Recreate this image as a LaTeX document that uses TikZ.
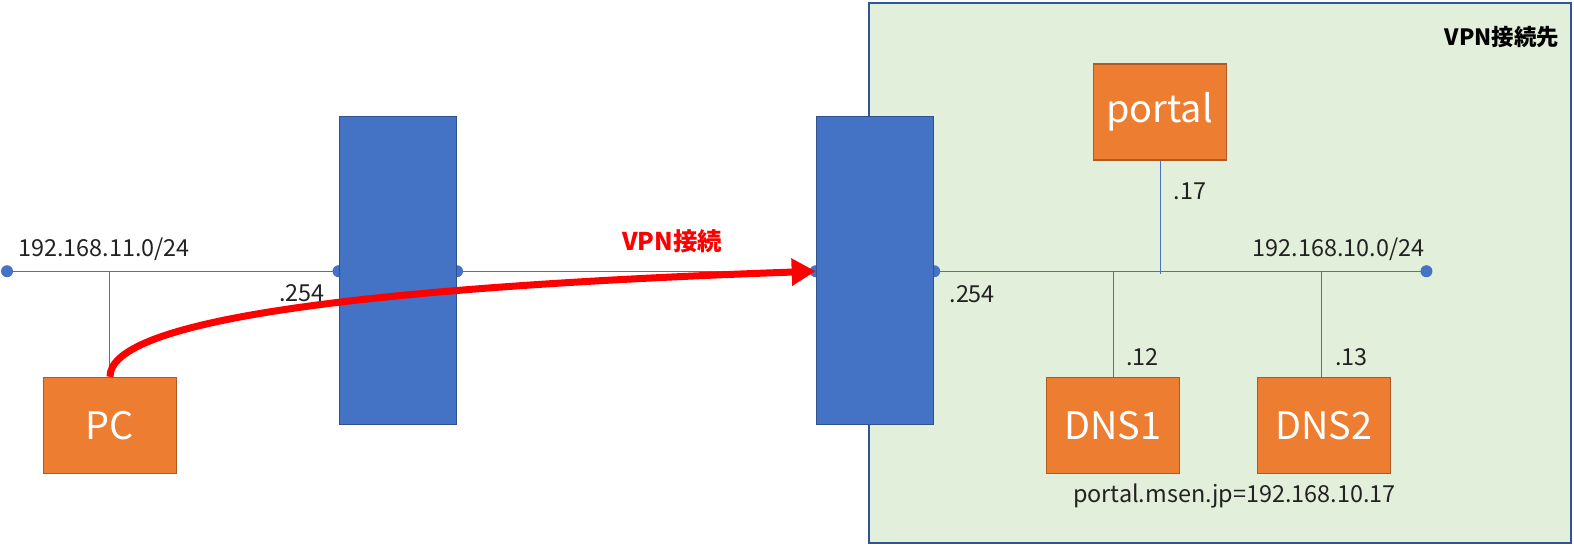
\documentclass[tikz,border=0pt]{standalone}
\usepackage{fontspec}
\setmainfont{Noto Sans CJK JP}
\usetikzlibrary{arrows.meta}
\definecolor{netblue}{HTML}{4472C4}
\definecolor{rtborder}{HTML}{2F528F}
\definecolor{orangefill}{HTML}{ED7D31}
\definecolor{orangeborder}{HTML}{AE5A21}
\definecolor{greenfill}{HTML}{E2EFDA}
\definecolor{greenborder}{HTML}{2F5597}
\definecolor{txt}{HTML}{222222}
\tikzset{
  hostbox/.style={draw=orangeborder, fill=orangefill, line width=1.3bp, minimum width=133bp, minimum height=96bp, text=white, font=\fontsize{38}{42}\selectfont, inner sep=0pt},
  router/.style={draw=rtborder, fill=netblue, line width=1.3bp, minimum width=117bp, minimum height=308bp, inner sep=0pt},
  netline/.style={draw=netblue, line width=1bp},
  netdot/.style={circle, fill=netblue, minimum size=12bp, inner sep=0pt},
  lbl/.style={text=txt, font=\fontsize{23.5}{26}\selectfont, inner sep=0pt},
}
\begin{document}
\begin{tikzpicture}[x=1.0045bp,y=-1.0045bp]
\useasboundingbox (0,0) rectangle (1566.9,542.56);
% destination area
\node[draw=greenborder, fill=greenfill, line width=2bp, minimum width=702bp, minimum height=540bp, inner sep=0pt] (area) at (1214.5,271.5) {};
\node[font=\bfseries\fontsize{22.5}{25}\selectfont, text=black, anchor=east, inner sep=0pt] (areaname) at (1552,37) {VPN接続先};
% dots
\node[netdot] (d0) at (7,270) {};
\node[netdot] (d1) at (337,270) {};
\node[netdot] (d2) at (455,270) {};
\node[netdot] (d3) at (812,270) {};
\node[netdot] (d4) at (930,270) {};
\node[netdot] (d5) at (1420,270) {};
% lines
\draw[netline] (d0.center) -- (d1.center);
\draw[netline] (d2.center) -- (d3.center);
\draw[netline] (d4.center) -- (d5.center);
% routers
\node[router] (r1) at (396,269.5) {};
\node[router] (r2) at (871,269.5) {};
% hosts
\node[hostbox] (pc) at (109.5,423.5) {PC};
\node[hostbox] (portal) at (1154.5,111.5) {portal};
\node[hostbox] (dns1) at (1108,423.5) {DNS1};
\node[hostbox] (dns2) at (1318,423.5) {DNS2};
\coordinate (pcj) at (109,270);
\coordinate (portalj) at (1155,273);
\coordinate (dns1j) at (1108,270);
\coordinate (dns2j) at (1316,270);
\draw[netline] (pc.north -| pcj) -- (pcj);
\draw[netline] (portal.south -| portalj) -- (portalj);
\draw[netline] (dns1.north -| dns1j) -- (dns1j);
\draw[netline] (dns2.north -| dns2j) -- (dns2j);
% labels
\node[lbl, anchor=west] (n11) at (18,248) {192.168.11.0/24};
\node[lbl, anchor=west] (l254a) at (278,292) {.254};
\node[lbl, anchor=west] (l254b) at (945,293) {.254};
\node[lbl, anchor=west] (l17) at (1168,190) {.17};
\node[lbl, anchor=west] (n10) at (1247,248) {192.168.10.0/24};
\node[lbl, anchor=west] (l12) at (1121,356) {.12};
\node[lbl, anchor=west] (l13) at (1329,356) {.13};
\node[lbl, anchor=west] (dnsinfo) at (1068,494) {portal.msen.jp=192.168.10.17};
\node[font=\bfseries\fontsize{24.5}{27}\selectfont, text=red, anchor=west, inner sep=0pt] (vpnlbl) at (619,240) {VPN接続};
% VPN arrow
\draw[red, line width=7bp, -{Triangle[length=24bp,width=26bp]}] (pc.north) .. controls (109,322) and (330,287) .. (d3.center);
\end{tikzpicture}
\end{document}
